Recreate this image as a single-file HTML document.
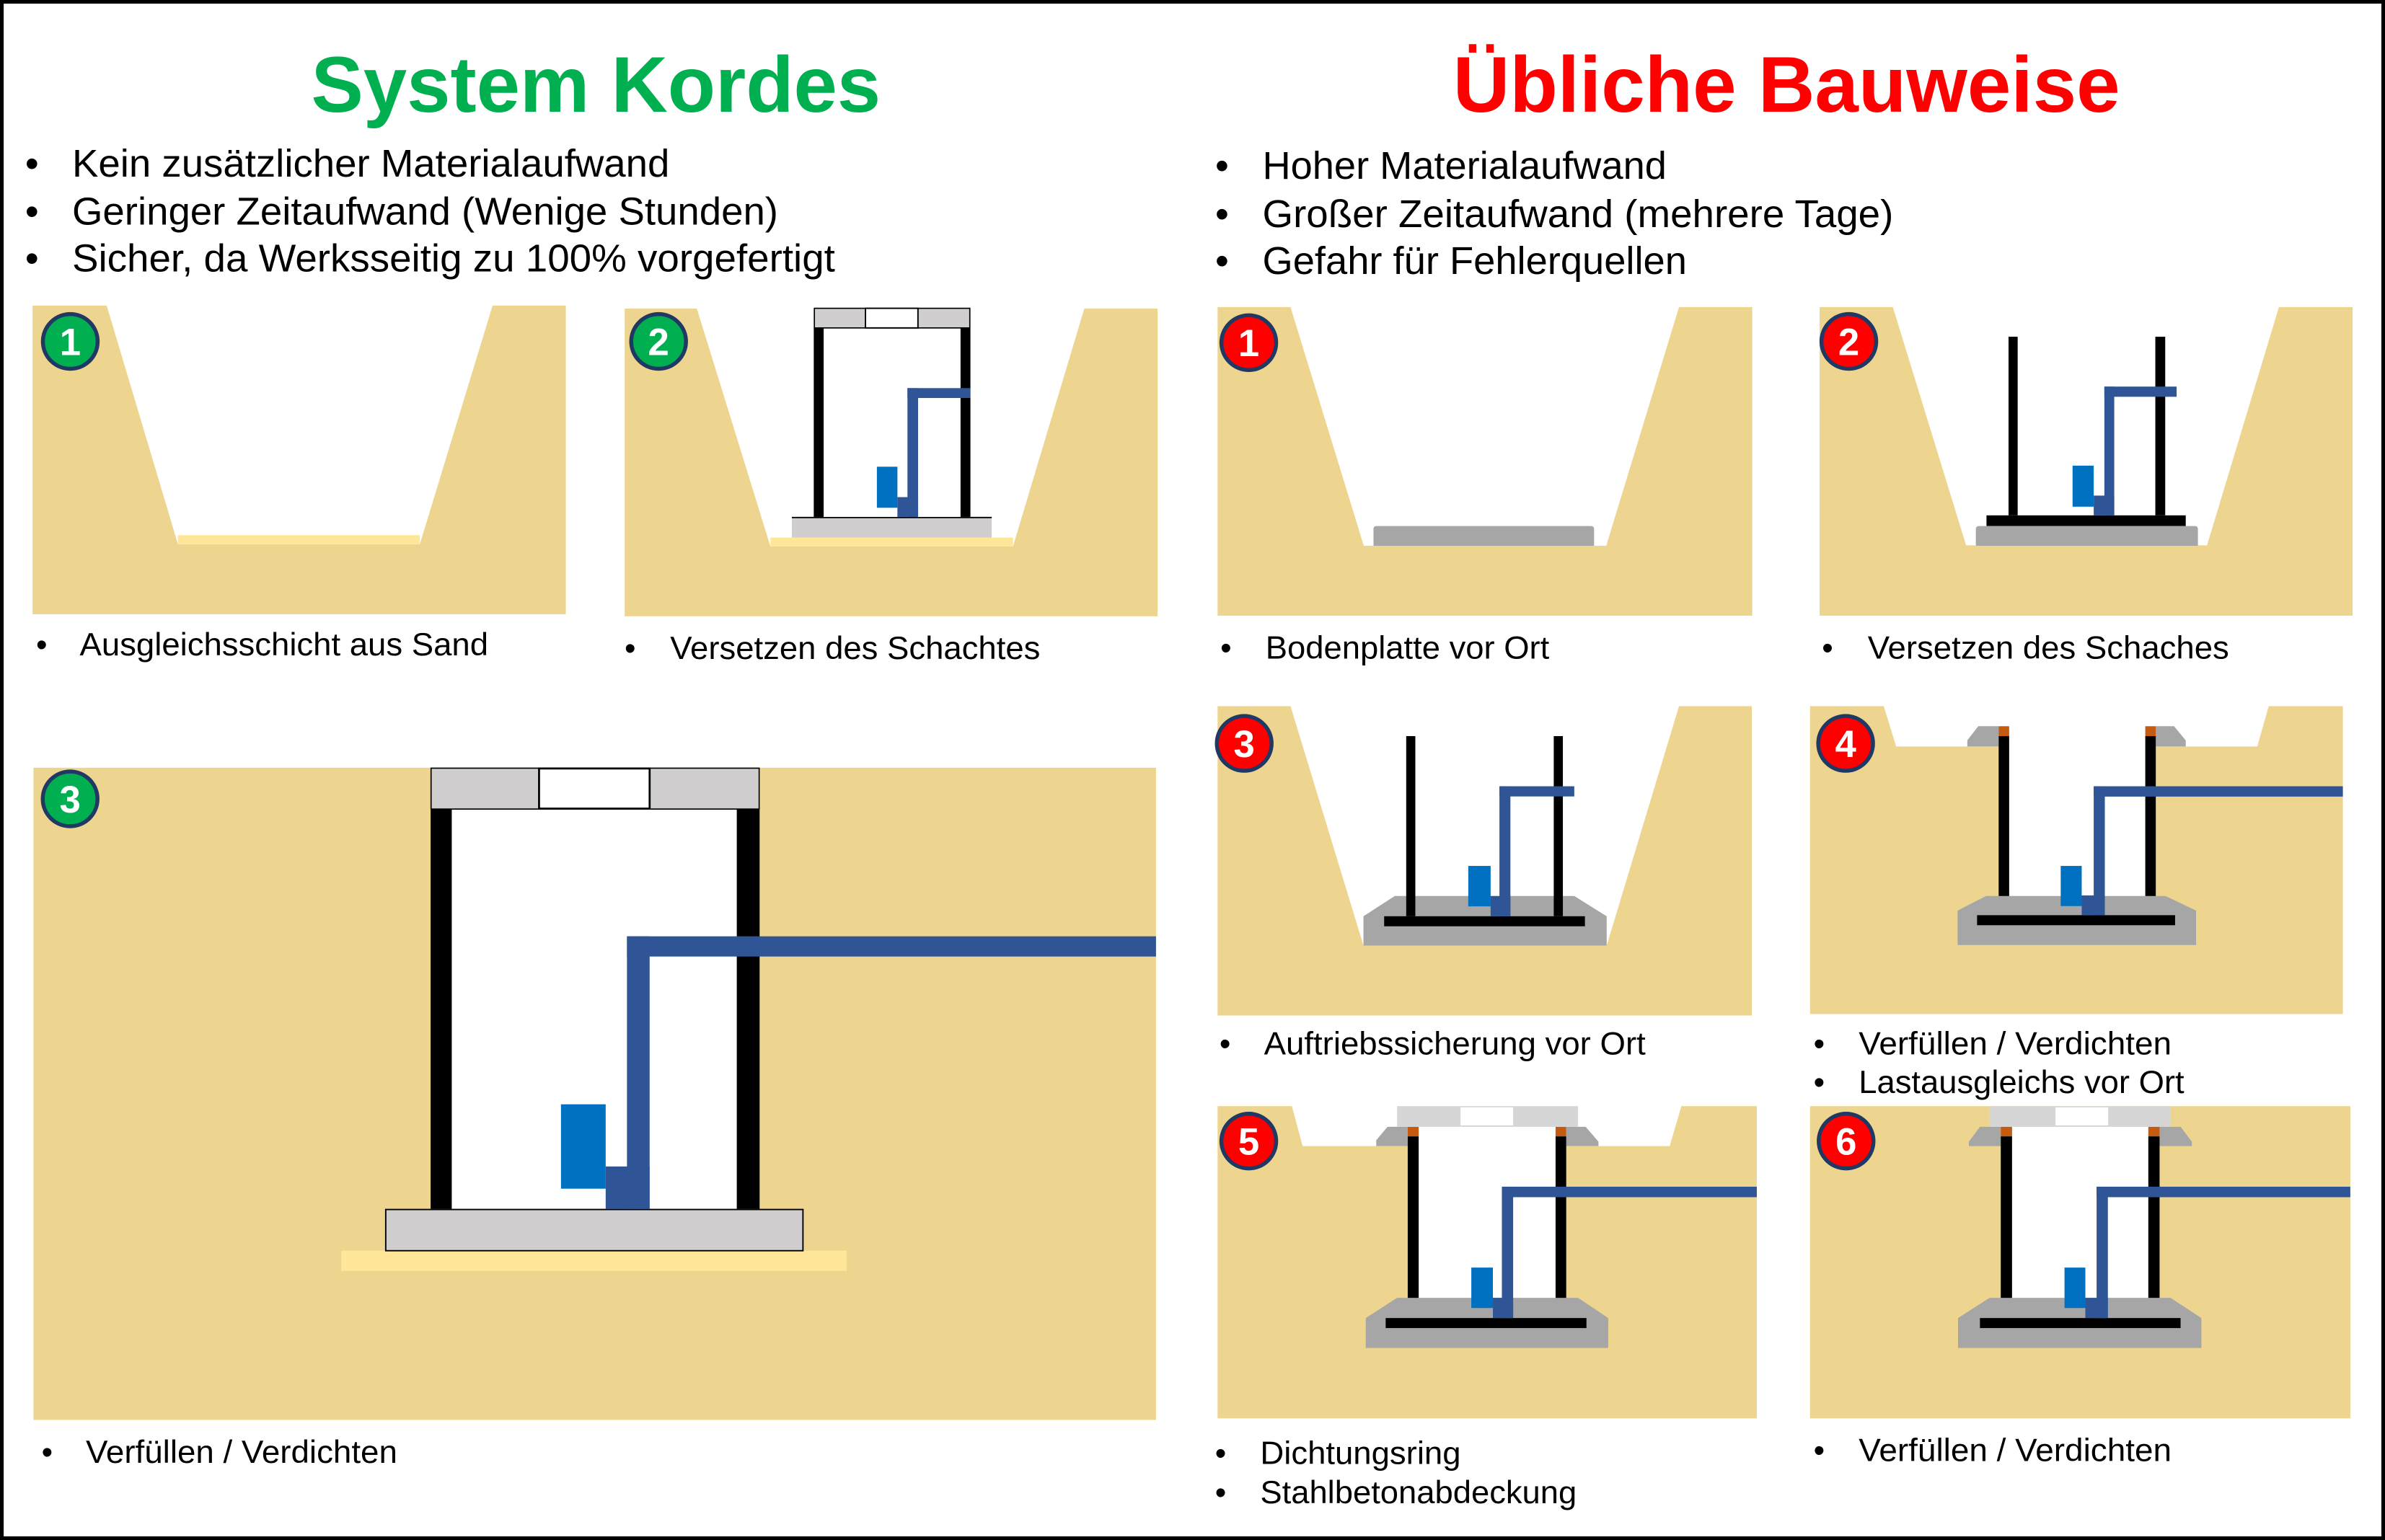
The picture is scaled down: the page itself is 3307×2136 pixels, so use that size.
<!DOCTYPE html>
<html><head><meta charset="utf-8"><style>
html,body{margin:0;padding:0;background:#fff;overflow:hidden;}
svg{display:block;}
text{font-family:"Liberation Sans",Arial,sans-serif;}
</style></head><body>
<svg width="3307" height="2136" viewBox="0 0 1568 1013" preserveAspectRatio="none" xmlns="http://www.w3.org/2000/svg">
<rect x="0" y="0" width="1568" height="1013" fill="#fff"/>

<!-- Titles -->
<text x="204.6" y="73.5" font-size="52" font-weight="bold" fill="#00B050" textLength="374.4" lengthAdjust="spacingAndGlyphs">System Kordes</text>
<text x="955.3" y="73.5" font-size="52" font-weight="bold" fill="#FF0000" textLength="438.5" lengthAdjust="spacingAndGlyphs">Übliche Bauweise</text>

<!-- Header bullets left -->
<g font-size="25.5" fill="#000">
<text x="21" y="116.2" text-anchor="middle">•</text>
<text x="21" y="147.8" text-anchor="middle">•</text>
<text x="21" y="178.6" text-anchor="middle">•</text>
<text x="47.4" y="116.2" textLength="392.8" lengthAdjust="spacingAndGlyphs">Kein zusätzlicher Materialaufwand</text>
<text x="47.4" y="147.8" textLength="464.2" lengthAdjust="spacingAndGlyphs">Geringer Zeitaufwand (Wenige Stunden)</text>
<text x="47.4" y="178.6" textLength="501.6" lengthAdjust="spacingAndGlyphs">Sicher, da Werksseitig zu 100% vorgefertigt</text>
<text x="803.4" y="117.7" text-anchor="middle">•</text>
<text x="803.4" y="149.4" text-anchor="middle">•</text>
<text x="803.4" y="180.2" text-anchor="middle">•</text>
<text x="830" y="117.7" textLength="265.7" lengthAdjust="spacingAndGlyphs">Hoher Materialaufwand</text>
<text x="830" y="149.4" textLength="414.8" lengthAdjust="spacingAndGlyphs">Großer Zeitaufwand (mehrere Tage)</text>
<text x="830" y="180.2" textLength="279" lengthAdjust="spacingAndGlyphs">Gefahr für Fehlerquellen</text>
</g>

<!-- ===== L1 ===== -->
<rect x="21.4" y="201" width="350.6" height="203" fill="#EDD590"/>
<polygon points="70,200.5 324,200.5 276,358 117,358" fill="#fff"/>
<rect x="117" y="352" width="159" height="6" fill="#FFE699"/>

<!-- ===== L2 ===== -->
<rect x="410.7" y="203" width="350.3" height="202.4" fill="#EDD590"/>
<polygon points="458,202.5 713,202.5 666,359.4 506.5,359.4" fill="#fff"/>
<rect x="506.5" y="353.6" width="159.5" height="5.8" fill="#FFE699"/>
<rect x="520.6" y="340" width="131.4" height="13.6" fill="#D0CECE"/>
<line x1="520.6" y1="340.4" x2="652" y2="340.4" stroke="#000" stroke-width="0.9"/>
<rect x="541.5" y="215.7" width="90" height="124.3" fill="#fff"/>
<rect x="535" y="215.7" width="6.5" height="124.3" fill="#000"/>
<rect x="631.5" y="215.7" width="6.5" height="124.3" fill="#000"/>
<rect x="535.4" y="202.8" width="102.2" height="12.9" fill="#D0CECE" stroke="#000" stroke-width="0.8"/>
<rect x="569" y="202.8" width="34.5" height="12.9" fill="#fff" stroke="#000" stroke-width="0.9"/>
<rect x="596.6" y="255.3" width="41.4" height="6.5" fill="#2F5597"/>
<rect x="596.6" y="255.3" width="7" height="84.7" fill="#2F5597"/>
<rect x="576.5" y="307" width="13.5" height="27" fill="#0070C0"/>
<rect x="590" y="327" width="13.6" height="13" fill="#2F5597"/>

<!-- ===== L3 ===== -->
<rect x="22" y="505" width="738" height="429" fill="#EDD590"/>
<rect x="297" y="532" width="187.4" height="263.2" fill="#fff"/>
<rect x="283.1" y="532" width="13.9" height="263.2" fill="#000"/>
<rect x="484.4" y="532" width="15" height="263.2" fill="#000"/>
<rect x="283.4" y="505.3" width="215.7" height="26.9" fill="#D0CECE" stroke="#000" stroke-width="0.8"/>
<rect x="354.4" y="505.5" width="72.7" height="26.4" fill="#fff" stroke="#000" stroke-width="1.3"/>
<rect x="224.3" y="822.7" width="332.4" height="13.3" fill="#FFE699"/>
<rect x="253.6" y="795.6" width="274.3" height="27.1" fill="#D0CECE" stroke="#000" stroke-width="0.9"/>
<rect x="412.2" y="615.9" width="347.8" height="13.3" fill="#2F5597"/>
<rect x="412.2" y="615.9" width="14.9" height="179.3" fill="#2F5597"/>
<rect x="368.8" y="726.4" width="29.4" height="55.5" fill="#0070C0"/>
<rect x="398.2" y="767.3" width="28.9" height="27.9" fill="#2F5597"/>

<!-- ===== R1 ===== -->
<rect x="800.5" y="202" width="351.5" height="203" fill="#EDD590"/>
<polygon points="848.3,201.5 1104,201.5 1056,359 896.6,359" fill="#fff"/>
<path d="M903,359 L903,348 Q903,346 905,346 L1046,346 Q1048,346 1048,348 L1048,359 Z" fill="#A6A6A6"/>

<!-- ===== R2 ===== -->
<rect x="1196.3" y="202" width="350.4" height="203" fill="#EDD590"/>
<polygon points="1244.3,201.5 1498.4,201.5 1451,358.7 1292.6,358.7" fill="#fff"/>
<path d="M1299,359 L1299,348 Q1299,346 1301,346 L1443,346 Q1445,346 1445,348 L1445,359 Z" fill="#A6A6A6"/>
<rect x="1306" y="339" width="131" height="7" fill="#000"/>
<rect x="1320.5" y="221.5" width="6" height="117.5" fill="#000"/>
<rect x="1417" y="221.5" width="6.5" height="117.5" fill="#000"/>
<rect x="1383.5" y="254.3" width="47.5" height="6.7" fill="#2F5597"/>
<rect x="1383.5" y="254.3" width="6.5" height="84.7" fill="#2F5597"/>
<rect x="1362.6" y="306.3" width="13.9" height="27" fill="#0070C0"/>
<rect x="1376.5" y="326" width="13.5" height="13" fill="#2F5597"/>

<!-- ===== R3 ===== -->
<rect x="800.5" y="464.5" width="351.2" height="203.5" fill="#EDD590"/>
<polygon points="848.3,464 1104,464 1056.3,622 896.4,622" fill="#fff"/>
<polygon points="917,589.4 1035,589.4 1056.3,602.7 1056.3,622 896.4,622 896.4,602.7" fill="#A6A6A6"/>
<rect x="910" y="602.7" width="132" height="6.6" fill="#000"/>
<rect x="924.5" y="484.2" width="6" height="118.5" fill="#000"/>
<rect x="1021.5" y="484.2" width="6" height="118.5" fill="#000"/>
<rect x="985.8" y="517.2" width="49.2" height="6.7" fill="#2F5597"/>
<rect x="985.8" y="517.2" width="7.2" height="85.5" fill="#2F5597"/>
<rect x="965.3" y="569.6" width="14.7" height="26.6" fill="#0070C0"/>
<rect x="980" y="589.4" width="13" height="13.3" fill="#2F5597"/>

<!-- ===== R4 ===== -->
<rect x="1190" y="464.5" width="350.3" height="202.5" fill="#EDD590"/>
<polygon points="1238.3,464 1491.7,464 1484,491 1246.6,491" fill="#fff"/>
<rect x="1320.9" y="477.7" width="89.5" height="124.3" fill="#fff"/>
<polygon points="1293.4,491 1293.4,487 1300.6,477.7 1314,477.7 1314,491" fill="#A6A6A6"/>
<polygon points="1417.3,477.7 1429.3,477.7 1437,487 1437,491 1417.3,491" fill="#A6A6A6"/>
<rect x="1314" y="477.7" width="6.9" height="6.5" fill="#C55A11"/>
<rect x="1410.4" y="477.7" width="6.9" height="6.5" fill="#C55A11"/>
<rect x="1314" y="484.2" width="6.9" height="117.8" fill="#000"/>
<rect x="1410.4" y="484.2" width="6.9" height="117.8" fill="#000"/>
<polygon points="1305.7,589.4 1423.7,589.4 1443.8,599 1443.8,621.6 1287,621.6 1287,599" fill="#A6A6A6"/>
<rect x="1299.8" y="602" width="130.2" height="6.6" fill="#000"/>
<rect x="1376.5" y="517.2" width="163.8" height="6.8" fill="#2F5597"/>
<rect x="1376.5" y="517.2" width="7.3" height="84.8" fill="#2F5597"/>
<rect x="1354.8" y="569.6" width="13.8" height="26.4" fill="#0070C0"/>
<rect x="1368.6" y="589" width="15.2" height="13" fill="#2F5597"/>

<!-- ===== R5 ===== -->
<rect x="800.5" y="727.6" width="354.5" height="205.4" fill="#EDD590"/>
<polygon points="849.2,727 1105.6,727 1097.7,753.9 856.4,753.9" fill="#fff"/>
<rect x="932.7" y="741.2" width="90" height="125.8" fill="#fff"/>
<polygon points="904.8,753.9 904.8,750 912.2,741.2 925.5,741.2 925.5,753.9" fill="#A6A6A6"/>
<polygon points="1029.7,741.2 1042.5,741.2 1050.9,751 1050.9,753.9 1029.7,753.9" fill="#A6A6A6"/>
<rect x="925.5" y="741.2" width="7.2" height="6.3" fill="#C55A11"/>
<rect x="1022.7" y="741.2" width="7" height="6.3" fill="#C55A11"/>
<rect x="925.5" y="747.5" width="7.2" height="119.5" fill="#000"/>
<rect x="1022.7" y="747.5" width="7" height="119.5" fill="#000"/>
<rect x="918.5" y="727.6" width="119" height="13.6" fill="#D6D6D6"/>
<rect x="960.2" y="728.4" width="34.6" height="11.9" fill="#fff"/>
<polygon points="918.5,853.7 1037.5,853.7 1057.3,867 1057.3,886.7 897.9,886.7 897.9,867" fill="#A6A6A6"/>
<rect x="911" y="867" width="132" height="6.6" fill="#000"/>
<rect x="987.4" y="780.6" width="167.6" height="6.9" fill="#2F5597"/>
<rect x="987.4" y="780.6" width="7.4" height="86.4" fill="#2F5597"/>
<rect x="967.3" y="833.8" width="14.2" height="26.6" fill="#0070C0"/>
<rect x="981.5" y="853.7" width="13.3" height="13.3" fill="#2F5597"/>

<!-- ===== R6 ===== -->
<rect x="1190" y="727.6" width="355.2" height="205.4" fill="#EDD590"/>
<rect x="1322.8" y="741.2" width="89.6" height="125.8" fill="#fff"/>
<polygon points="1294.4,753.9 1294.4,751 1301.7,741.2 1315.4,741.2 1315.4,753.9" fill="#A6A6A6"/>
<polygon points="1419.8,741.2 1433.6,741.2 1441,751 1441,753.9 1419.8,753.9" fill="#A6A6A6"/>
<rect x="1315.4" y="741.2" width="7.4" height="6.3" fill="#C55A11"/>
<rect x="1412.4" y="741.2" width="7.4" height="6.3" fill="#C55A11"/>
<rect x="1315.4" y="747.5" width="7.4" height="119.5" fill="#000"/>
<rect x="1412.4" y="747.5" width="7.4" height="119.5" fill="#000"/>
<rect x="1308" y="727.6" width="119.2" height="13.6" fill="#D6D6D6"/>
<rect x="1351.4" y="728.4" width="34.6" height="11.9" fill="#fff"/>
<polygon points="1308,853.7 1427,853.7 1447.3,867 1447.3,886.7 1287.3,886.7 1287.3,867" fill="#A6A6A6"/>
<rect x="1301.7" y="867" width="131.9" height="6.6" fill="#000"/>
<rect x="1378.4" y="780.6" width="166.8" height="6.9" fill="#2F5597"/>
<rect x="1378.4" y="780.6" width="7.4" height="86.4" fill="#2F5597"/>
<rect x="1357.3" y="833.8" width="13.7" height="26.6" fill="#0070C0"/>
<rect x="1371" y="853.7" width="14.8" height="13.3" fill="#2F5597"/>

<!-- Badges -->
<g stroke="#1F3864" stroke-width="2.6">
<circle cx="46.2" cy="224.6" r="18" fill="#00B050"/>
<circle cx="433" cy="224.6" r="18" fill="#00B050"/>
<circle cx="46.1" cy="525.5" r="18" fill="#00B050"/>
<circle cx="821" cy="225.4" r="18" fill="#FF0000"/>
<circle cx="1215.5" cy="224.6" r="18" fill="#FF0000"/>
<circle cx="818" cy="489" r="18" fill="#FF0000"/>
<circle cx="1213.4" cy="489" r="18" fill="#FF0000"/>
<circle cx="821" cy="750.6" r="18" fill="#FF0000"/>
<circle cx="1213.7" cy="750.6" r="18" fill="#FF0000"/>
</g>
<g font-size="25" font-weight="bold" fill="#fff" text-anchor="middle">
<text x="46.2" y="233.6">1</text>
<text x="433" y="233.6">2</text>
<text x="46.1" y="534.5">3</text>
<text x="821" y="234.4">1</text>
<text x="1215.5" y="233.6">2</text>
<text x="818" y="498">3</text>
<text x="1213.4" y="498">4</text>
<text x="821" y="759.6">5</text>
<text x="1213.7" y="759.6">6</text>
</g>

<!-- Panel labels -->
<g font-size="21" fill="#000">
<text x="27.4" y="431" text-anchor="middle">•</text>
<text x="52.4" y="431" textLength="268.6" lengthAdjust="spacingAndGlyphs">Ausgleichsschicht aus Sand</text>
<text x="414.3" y="433.5" text-anchor="middle">•</text>
<text x="440.6" y="433.5" textLength="243.3" lengthAdjust="spacingAndGlyphs">Versetzen des Schachtes</text>
<text x="806" y="433.2" text-anchor="middle">•</text>
<text x="832" y="433.2" textLength="186.6" lengthAdjust="spacingAndGlyphs">Bodenplatte vor Ort</text>
<text x="1201.5" y="433.2" text-anchor="middle">•</text>
<text x="1227.9" y="433.2" textLength="237.6" lengthAdjust="spacingAndGlyphs">Versetzen des Schaches</text>
<text x="805.4" y="693.6" text-anchor="middle">•</text>
<text x="831" y="693.6" textLength="250.9" lengthAdjust="spacingAndGlyphs">Auftriebssicherung vor Ort</text>
<text x="1196" y="693.6" text-anchor="middle">•</text>
<text x="1222" y="693.6" textLength="205.7" lengthAdjust="spacingAndGlyphs">Verfüllen / Verdichten</text>
<text x="1196" y="719" text-anchor="middle">•</text>
<text x="1222" y="719" textLength="214" lengthAdjust="spacingAndGlyphs">Lastausgleichs vor Ort</text>
<text x="802.5" y="963" text-anchor="middle">•</text>
<text x="828.5" y="963" textLength="131.9" lengthAdjust="spacingAndGlyphs">Dichtungsring</text>
<text x="802.5" y="988.9" text-anchor="middle">•</text>
<text x="828.5" y="988.9" textLength="208.1" lengthAdjust="spacingAndGlyphs">Stahlbetonabdeckung</text>
<text x="1196" y="961.1" text-anchor="middle">•</text>
<text x="1222" y="961.1" textLength="205.7" lengthAdjust="spacingAndGlyphs">Verfüllen / Verdichten</text>
<text x="31" y="962.2" text-anchor="middle">•</text>
<text x="56.4" y="962.2" textLength="204.8" lengthAdjust="spacingAndGlyphs">Verfüllen / Verdichten</text>
</g>

<!-- Outer frame -->
<rect x="1.2" y="1.2" width="1565.6" height="1010.6" fill="none" stroke="#000" stroke-width="2.4"/>
</svg>
</body></html>
